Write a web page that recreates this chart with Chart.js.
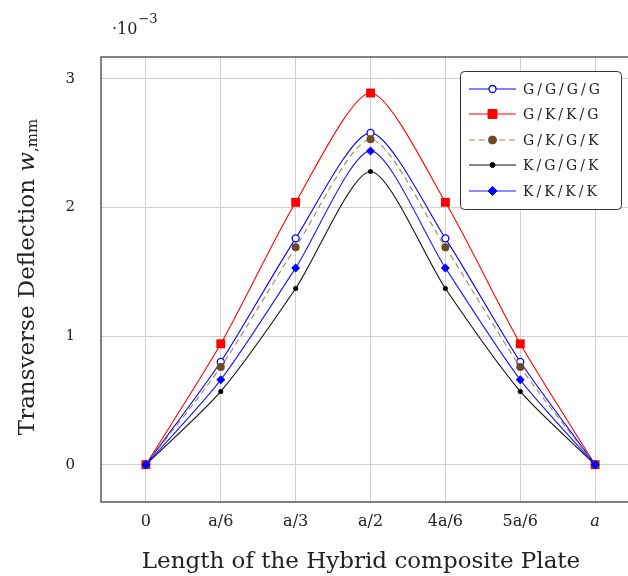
<!DOCTYPE html>
<html>
<head>
<meta charset="utf-8">
<script src="https://cdn.jsdelivr.net/npm/chart.js@4.4.1/dist/chart.umd.min.js"></script>
<style>
  html, body { margin: 0; padding: 0; background: #fff; }
  body { width: 628px; height: 576px; overflow: hidden; }
  #wrap { width: 680px; height: 576px; }
</style>
</head>
<body>
<div id="wrap"><canvas id="deflChart" width="680" height="576"></canvas></div>
<script>
// deflection along the plate, values in units of 1e-3 mm
const xPos = [0, 1, 2, 3, 4, 5, 6];
const xLabels = ['0', 'a/6', 'a/3', 'a/2', '4a/6', '5a/6', 'a'];
const yTicks = [0, 1, 2, 3];

const seriesNames = ['G/G/G/G', 'G/K/K/G', 'G/K/G/K', 'K/G/G/K', 'K/K/K/K'];
const gggg = [0, 0.80, 1.76, 2.58, 1.76, 0.80, 0];
const gkkg = [0, 0.94, 2.04, 2.89, 2.04, 0.94, 0];
const gkgk = [0, 0.76, 1.69, 2.53, 1.69, 0.76, 0];
const kggk = [0, 0.57, 1.37, 2.28, 1.37, 0.57, 0];
const kkkk = [0, 0.66, 1.53, 2.44, 1.53, 0.66, 0];

const SERIF = "'DejaVu Serif', 'Liberation Serif', serif";

function pts(vals) {
    return vals.map((v, i) => ({ x: xPos[i], y: v }));
}

const datasets = [
    { label: seriesNames[0], data: pts(gggg), borderColor: '#0000ff', backgroundColor: '#ffffff',
      pointStyle: 'circle', pointRadius: 3.5, pointBorderWidth: 1.3, pointBorderColor: '#0000ff', order: 3 },
    { label: seriesNames[1], data: pts(gkkg), borderColor: '#ff0000', backgroundColor: '#ff0000',
      pointStyle: 'rect', pointRadius: 6.3, pointBorderWidth: 0, order: 4 },
    { label: seriesNames[2], data: pts(gkgk), borderColor: '#a08466', backgroundColor: '#6e4a26',
      borderDash: [6, 4], pointStyle: 'circle', pointRadius: 4, pointBorderWidth: 0, order: 2 },
    { label: seriesNames[3], data: pts(kggk), borderColor: '#111111', backgroundColor: '#000000',
      pointStyle: 'circle', pointRadius: 2.5, pointBorderWidth: 0, order: 1 },
    { label: seriesNames[4], data: pts(kkkk), borderColor: '#1a1aff', backgroundColor: '#0000ff',
      pointStyle: 'rectRot', pointRadius: 4.5, pointBorderWidth: 0, order: 0 }
];
datasets.forEach(d => {
    d.borderWidth = 1.1;
    d.tension = 0.25;
    d.fill = false;
    d.pointHoverRadius = d.pointRadius;
});

function drawMarker(ctx, ds, x, y) {
    ctx.save();
    ctx.fillStyle = ds.backgroundColor;
    ctx.strokeStyle = ds.pointBorderColor || ds.backgroundColor;
    ctx.lineWidth = ds.pointBorderWidth || 0;
    const r = ds.pointRadius;
    ctx.beginPath();
    if (ds.pointStyle === 'rect') {
        const s = r * Math.SQRT1_2;
        ctx.rect(x - s, y - s, 2 * s, 2 * s);
    } else if (ds.pointStyle === 'rectRot') {
        ctx.moveTo(x, y - r); ctx.lineTo(x + r, y); ctx.lineTo(x, y + r); ctx.lineTo(x - r, y);
        ctx.closePath();
    } else {
        ctx.arc(x, y, r, 0, Math.PI * 2);
    }
    ctx.fill();
    if (ctx.lineWidth > 0) ctx.stroke();
    ctx.restore();
}

const decorPlugin = {
    id: 'decor',
    afterDatasetsDraw(chart) {
        const ctx = chart.ctx;
        const a = chart.chartArea;
        // frame
        ctx.save();
        ctx.strokeStyle = '#4d4d4d';
        ctx.lineWidth = 1.4;
        ctx.strokeRect(a.left, a.top, a.right - a.left, a.bottom - a.top);
        ctx.restore();

        // legend
        const lx = 460, ly = 71, lw = 161, lh = 138;
        ctx.save();
        ctx.fillStyle = '#fff';
        ctx.strokeStyle = '#333';
        ctx.lineWidth = 1;
        ctx.beginPath();
        ctx.roundRect(lx + 0.5, ly + 0.5, lw, lh, 4);
        ctx.fill();
        ctx.stroke();
        const rowY = [89, 114, 140, 165, 191];
        chart.data.datasets.forEach((ds, i) => {
            const y = rowY[i];
            ctx.save();
            ctx.strokeStyle = ds.borderColor;
            ctx.lineWidth = ds.borderWidth;
            ctx.setLineDash(ds.borderDash || []);
            ctx.beginPath();
            ctx.moveTo(469, y); ctx.lineTo(516, y);
            ctx.stroke();
            ctx.restore();
            drawMarker(ctx, ds, 492.5, y);
            ctx.save();
            ctx.fillStyle = '#222';
            ctx.font = '14px ' + SERIF;
            ctx.letterSpacing = '3px';
            ctx.textBaseline = 'middle';
            ctx.fillText(ds.label, 523, y + 1);
            ctx.restore();
        });
        ctx.restore();

        // x axis title
        ctx.save();
        ctx.fillStyle = '#222';
        ctx.font = '23px ' + SERIF;
        ctx.textAlign = 'center';
        ctx.textBaseline = 'alphabetic';
        ctx.fillText('Length of the Hybrid composite Plate', 361, 568);
        ctx.restore();

        // y axis title
        ctx.save();
        ctx.translate(28, 277);
        ctx.rotate(-Math.PI / 2);
        ctx.fillStyle = '#222';
        ctx.textBaseline = 'middle';
        const main = 'Transverse Deflection ';
        ctx.font = '23px ' + SERIF;
        const w1 = ctx.measureText(main).width;
        ctx.font = 'italic 23px ' + SERIF;
        const w2 = ctx.measureText('w').width;
        ctx.font = '15px ' + SERIF;
        const w3 = ctx.measureText(',mm').width;
        let x = -(w1 + w2 + w3) / 2;
        ctx.font = '23px ' + SERIF;
        ctx.fillText(main, x, 0);
        x += w1;
        ctx.font = 'italic 23px ' + SERIF;
        ctx.fillText('w', x, 0);
        x += w2;
        ctx.font = '15px ' + SERIF;
        ctx.fillText(',mm', x, 5);
        ctx.restore();

        // exponent label
        ctx.save();
        ctx.fillStyle = '#222';
        ctx.textBaseline = 'alphabetic';
        ctx.font = '16px ' + SERIF;
        ctx.fillText('\u00b710', 112, 34);
        const wb = ctx.measureText('\u00b710').width;
        ctx.font = '13px ' + SERIF;
        ctx.fillText('\u22123', 112 + wb + 1, 23);
        ctx.restore();
    }
};

const gridColor = '#d0d0d0';

new Chart(document.getElementById('deflChart'), {
    type: 'line',
    data: { datasets: datasets },
    plugins: [decorPlugin],
    options: {
        responsive: false,
        animation: false,
        events: [],
        layout: { padding: { top: 57, right: 10, left: 0, bottom: 0 } },
        plugins: { legend: { display: false }, tooltip: { enabled: false } },
        scales: {
            x: {
                type: 'linear',
                min: -0.6,
                max: 7.0,
                afterBuildTicks: s => { s.ticks = xPos.map(v => ({ value: v })); },
                afterFit: s => { s.height = 74; },
                ticks: {
                    padding: 10,
                    color: '#222',
                    font: c => ({ family: SERIF, size: 16, style: c.tick && c.tick.value === 6 ? 'italic' : 'normal' }),
                    maxRotation: 0,
                    callback: (v) => xLabels[xPos.indexOf(v)]
                },
                grid: { color: gridColor, lineWidth: 1, drawTicks: false },
                border: { display: false }
            },
            y: {
                min: -0.29,
                max: 3.17,
                afterBuildTicks: s => { s.ticks = yTicks.map(v => ({ value: v })); },
                afterFit: s => { s.width = 101; },
                ticks: {
                    padding: 26,
                    color: '#222',
                    font: { family: SERIF, size: 15 },
                    callback: v => String(v)
                },
                grid: { color: gridColor, lineWidth: 1, drawTicks: false },
                border: { display: false }
            }
        }
    }
});
</script>
</body>
</html>
